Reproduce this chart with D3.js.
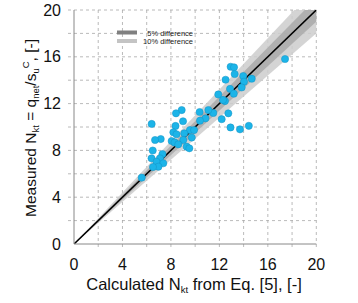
<!DOCTYPE html>
<html><head><meta charset="utf-8">
<script src="https://cdn.jsdelivr.net/npm/d3@7"></script>
<style>body{margin:0;background:#fff}svg{display:block}text{font-family:"Liberation Sans",Arial,sans-serif}</style>
</head><body><svg id="c" width="358" height="303"></svg>
<script>
const tickValues = [0, 4, 8, 12, 16, 20];
const gridValues = [2, 4, 6, 8, 10, 12, 14, 16, 18, 20];
const bandLevels = [0.10, 0.05];
const legendLabels = ["5% difference", "10% difference"];
const calcX = [17.42,12.93,13.21,13.26,12.51,13.97,14.67,14.03,13.84,12.88,13.19,11.91,12.46,12.30,12.74,12.19,11.50,11.09,10.37,10.85,10.40,9.00,8.89,8.42,8.38,12.92,13.70,14.43,9.57,9.91,9.72,8.20,8.46,9.10,9.02,8.06,8.30,8.61,9.30,9.52,7.16,6.69,6.41,6.50,7.30,6.40,7.10,6.81,7.37,6.97,6.52,5.59];
const measY = [15.81,15.15,15.10,14.53,14.04,14.36,14.13,13.87,13.38,13.26,12.85,12.78,12.22,12.31,11.17,10.67,11.20,11.45,11.28,10.74,10.54,10.49,11.45,11.17,10.09,9.96,9.80,10.10,9.74,9.74,9.10,9.55,9.38,9.46,8.89,8.80,8.68,8.52,8.32,8.18,8.97,8.89,10.26,7.99,7.69,7.32,7.32,7.03,6.90,6.61,6.58,5.67];

const svg = d3.select("#c");
const x = d3.scaleLinear().domain([0, 20]).range([74, 316.3]);
const y = d3.scaleLinear().domain([0, 20]).range([244, 10]);

svg.append("clipPath").attr("id","clip").append("rect")
  .attr("x", x(0)).attr("y", y(20)).attr("width", x(20)-x(0)).attr("height", y(0)-y(20));

// grid
const g = svg.append("g");
g.selectAll(".gx").data(gridValues).join("line")
  .attr("x1", d => x(d)).attr("x2", d => x(d)).attr("y1", y(20)).attr("y2", y(0)+6)
  .attr("stroke", "#a8a8a8").attr("stroke-width", 0.8).attr("stroke-dasharray", "3,3");
g.selectAll(".gy").data(gridValues).join("line")
  .attr("y1", d => y(d)).attr("y2", d => y(d)).attr("x1", x(0)-6).attr("x2", x(20))
  .attr("stroke", "#a8a8a8").attr("stroke-width", 0.8).attr("stroke-dasharray", "3,3");

// bands
const bandColors = ["#cdcdcd", "#a9a9a9"];
const pb = svg.append("g").attr("clip-path", "url(#clip)");
bandLevels.forEach((p, i) => {
  const pts = [[0,0],[25,25*(1+p)],[25,25*(1-p)]];
  pb.append("path").attr("d", d3.line().x(d => x(d[0])).y(d => y(d[1]))(pts) + "Z")
    .attr("fill", bandColors[i]).attr("opacity", 0.85);
});
pb.append("line").attr("x1", x(0)).attr("y1", y(0)).attr("x2", x(20)).attr("y2", y(20))
  .attr("stroke", "#000").attr("stroke-width", 1.6);

// axes lines
svg.append("line").attr("x1", x(0)).attr("x2", x(20)).attr("y1", y(0)).attr("y2", y(0)).attr("stroke", "#888").attr("stroke-width", 1);
svg.append("line").attr("x1", x(0)).attr("x2", x(0)).attr("y1", y(0)).attr("y2", y(20)).attr("stroke", "#888").attr("stroke-width", 1);

// points
svg.append("g").selectAll("circle").data(calcX.map((v, i) => [v, measY[i]])).join("circle")
  .attr("cx", d => x(d[0])).attr("cy", d => y(d[1])).attr("r", 3.6)
  .attr("fill", "#1cb4e8").attr("stroke", "#1592c4").attr("stroke-width", 0.5);

// tick labels
svg.append("g").selectAll("text").data(tickValues).join("text")
  .attr("x", d => x(d)).attr("y", 270).attr("text-anchor", "middle")
  .attr("font-size", 16).attr("fill", "#111").text(d => d);
svg.append("g").selectAll("text").data(tickValues).join("text")
  .attr("x", 61).attr("y", d => y(d) + 5.5).attr("text-anchor", "end")
  .attr("font-size", 16).attr("fill", "#111").text(d => d);

// legend
const lg = svg.append("g");
legendLabels.forEach((t, i) => {
  lg.append("rect").attr("x", 117).attr("y", 30.5 + i*8.5).attr("width", 20).attr("height", 4)
    .attr("fill", i === 0 ? "#808080" : "#c4c4c4");
  lg.append("text").attr("x", 193).attr("y", 35.5 + i*8.5).attr("text-anchor", "end")
    .attr("font-size", 7.5).attr("fill", "#222").text(t);
});

// x title
const xt = svg.append("text").attr("x", 194).attr("y", 290).attr("text-anchor", "middle")
  .attr("font-size", 16.5).attr("fill", "#111");
xt.append("tspan").text("Calculated N");
xt.append("tspan").attr("font-size", 9.5).attr("dy", 3).text("kt");
xt.append("tspan").attr("dy", -3).text(" from Eq. [5], [-]");

// y title
const yt = svg.append("text").attr("transform", "translate(36,128) rotate(-90)")
  .attr("text-anchor", "middle").attr("font-size", 15.5).attr("fill", "#111");
yt.append("tspan").text("Measured N");
yt.append("tspan").attr("font-size", 9.5).attr("dy", 3).text("kt");
yt.append("tspan").attr("dy", -3).text(" = q");
yt.append("tspan").attr("font-size", 9.5).attr("dy", 3).text("net");
yt.append("tspan").attr("dy", -3).text("/s");
yt.append("tspan").attr("font-size", 9.5).attr("dy", 3).text("u");
yt.append("tspan").attr("font-size", 9.5).attr("dy", -10).text("C");
yt.append("tspan").attr("dy", 7).text(", [-]");
</script></body></html>
